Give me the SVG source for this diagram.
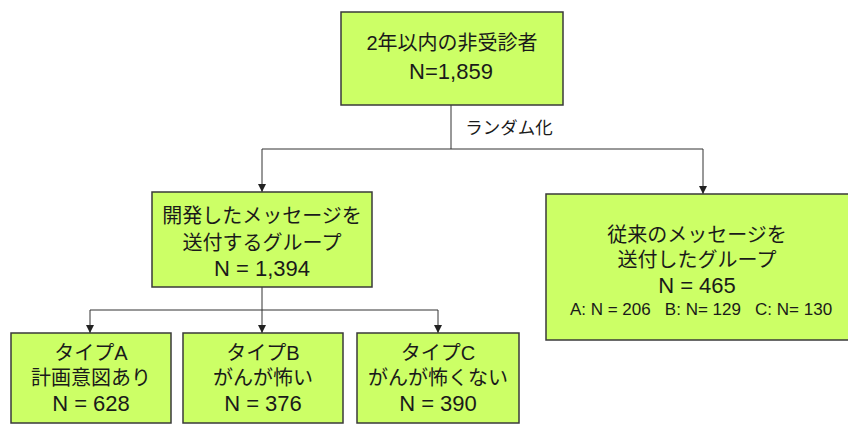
<svg xmlns="http://www.w3.org/2000/svg" width="848" height="425" viewBox="0 0 848 425">
<style>
.box{fill:#ccff66;stroke:#3a3a3a;stroke-width:1.5}
.t{font-family:"Liberation Sans","Noto Sans CJK JP",sans-serif;font-size:20px;fill:#1a1a1a;text-anchor:middle;dominant-baseline:central}
.n{font-size:22px}
.s{font-size:17px}
.c{fill:none;stroke:#333;stroke-width:1}
</style>
<defs>
<marker id="ar" markerWidth="8" markerHeight="8" refX="8" refY="4" orient="auto" markerUnits="userSpaceOnUse" viewBox="0 0 8 8">
<path d="M0,0 L8,4 L0,8 Z" fill="#222"/>
</marker>
</defs>
<rect width="848" height="425" fill="#fff"/>
<g id="connectors">
<path class="c" d="M451,105 V149"/>
<path class="c" d="M262,149 H703"/>
<path class="c" d="M262,149 V192" marker-end="url(#ar)"/>
<path class="c" d="M703,149 V194" marker-end="url(#ar)"/>
<path class="c" d="M262,287 V333" marker-end="url(#ar)"/>
<path class="c" d="M90,310 H438"/>
<path class="c" d="M90,310 V333" marker-end="url(#ar)"/>
<path class="c" d="M438,310 V333" marker-end="url(#ar)"/>
<text class="t" x="509" y="128" style="font-size:17.5px">ランダム化</text>
</g>
<g id="top">
<rect class="box" x="341" y="12" width="222" height="93"/>
<text class="t" x="452" y="43">2年以内の非受診者</text>
<text class="t n" x="451" y="71">N=1,859</text>
</g>
<g id="dev">
<rect class="box" x="152" y="192" width="220" height="95"/>
<text class="t" x="262" y="216">開発したメッセージを</text>
<text class="t" x="262" y="243">送付するグループ</text>
<text class="t n" x="262" y="268">N = 1,394</text>
</g>
<g id="conv">
<rect class="box" x="546" y="194" width="305" height="146"/>
<text class="t" x="697" y="235">従来のメッセージを</text>
<text class="t" x="697" y="260">送付したグループ</text>
<text class="t n" x="697" y="285">N = 465</text>
<text class="t s" x="701" y="309" xml:space="preserve">A: N = 206   B: N= 129   C: N= 130</text>
</g>
<g id="typeA">
<rect class="box" x="11" y="333" width="160" height="90"/>
<text class="t" x="91" y="353">タイプA</text>
<text class="t" x="91" y="378">計画意図あり</text>
<text class="t n" x="91" y="403">N = 628</text>
</g>
<g id="typeB">
<rect class="box" x="183" y="333" width="160" height="90"/>
<text class="t" x="263" y="353">タイプB</text>
<text class="t" x="263" y="378">がんが怖い</text>
<text class="t n" x="263" y="403">N = 376</text>
</g>
<g id="typeC">
<rect class="box" x="357" y="333" width="162" height="90"/>
<text class="t" x="438" y="353">タイプC</text>
<text class="t" x="438" y="378">がんが怖くない</text>
<text class="t n" x="438" y="403">N = 390</text>
</g>
</svg>
